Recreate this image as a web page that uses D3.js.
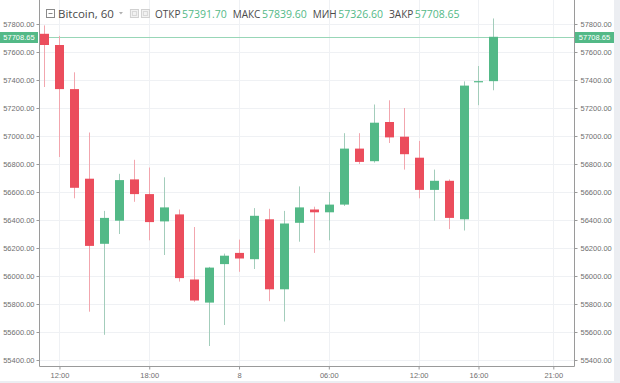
<!DOCTYPE html>
<html><head><meta charset="utf-8">
<script src="https://cdn.jsdelivr.net/npm/d3@7"></script>
<style>
html,body{margin:0;padding:0;background:#fff;}
svg{display:block;}
</style></head>
<body>
<svg id="c" width="620" height="383"></svg>
<script>
// ---- data ----
const times = ["2021-05-07 11:00","2021-05-07 12:00","2021-05-07 13:00","2021-05-07 14:00","2021-05-07 15:00","2021-05-07 16:00","2021-05-07 17:00","2021-05-07 18:00","2021-05-07 19:00","2021-05-07 20:00","2021-05-07 21:00","2021-05-07 22:00","2021-05-07 23:00","2021-05-08 00:00","2021-05-08 01:00","2021-05-08 02:00","2021-05-08 03:00","2021-05-08 04:00","2021-05-08 05:00","2021-05-08 06:00","2021-05-08 07:00","2021-05-08 08:00","2021-05-08 09:00","2021-05-08 10:00","2021-05-08 11:00","2021-05-08 12:00","2021-05-08 13:00","2021-05-08 14:00","2021-05-08 15:00","2021-05-08 16:00","2021-05-08 17:00"];
const opens  = [57730,57650,57335,56695,56230,56395,56690,56585,56390,56440,55975,55810,56085,56165,56120,56405,55905,56380,56475,56455,56510,56910,56820,57100,56995,56845,56615,56680,56405,57385,57391.70];
const highs  = [57790,57715,57455,57025,56465,56730,56830,56775,56705,56475,56350,56065,56160,56260,56485,56480,56465,56640,56495,56600,57020,57020,57225,57255,57200,56965,56760,56690,57390,57500,57839.60];
const lows   = [57350,56850,56555,55745,55580,56300,56530,56255,56150,55960,55815,55500,55650,56030,56050,55820,55675,56245,56165,56255,56500,56800,56810,56950,56760,56555,56395,56335,56325,57220,57326.60];
const closes = [57650,57335,56630,56215,56415,56685,56585,56385,56490,55985,55825,56060,56145,56125,56430,55905,56375,56490,56455,56510,56910,56815,57095,56990,56870,56615,56680,56415,57360,57392,57708.65];
const priceTicks = [55400,55600,55800,56000,56200,56400,56600,56800,57000,57200,57400,57600,57800];
const timeTickValues = ["2021-05-07 12:00","2021-05-07 18:00","2021-05-08 00:00","2021-05-08 06:00","2021-05-08 12:00","2021-05-08 16:00","2021-05-08 21:00"];
const timeTickLabels = ["12:00","18:00","8","06:00","12:00","16:00","21:00"];
const symbolTitle = "Bitcoin, 60";
const legendNames = ["ОТКР","МАКС","МИН","ЗАКР"];

// ---- layout ----
const parse = d3.timeParse("%Y-%m-%d %H:%M");
const L = 39.5, R = 574.5, T = 0, B = 366.5;
const svg = d3.select("#c");
const up = "#53b987", down = "#eb4d5c";
const font = "'Liberation Sans', Arial, sans-serif";

// outer frame background
svg.append("rect").attr("x",0).attr("y",0).attr("width",620).attr("height",383).attr("fill","#eceef2");
svg.append("rect").attr("x",0).attr("y",0).attr("width",614).attr("height",381).attr("fill","#fff");

const x = d3.scaleTime()
  .domain([parse("2021-05-07 10:40"), parse("2021-05-08 22:25")])
  .range([L, R]);
const y = d3.scaleLinear().domain([55400, 57800]).range([360, 24]);

// gridlines
const g = svg.append("g");
g.selectAll(".hg").data(priceTicks).join("line")
  .attr("x1",L).attr("x2",R)
  .attr("y1",d=>Math.round(y(d))+0.5).attr("y2",d=>Math.round(y(d))+0.5)
  .attr("stroke","#eff1f4").attr("stroke-width",1);
g.selectAll(".vg").data(timeTickValues).join("line")
  .attr("x1",d=>Math.round(x(parse(d)))+0.5).attr("x2",d=>Math.round(x(parse(d)))+0.5)
  .attr("y1",T).attr("y2",B)
  .attr("stroke","#eff1f4").attr("stroke-width",1);

// last price line
const last = closes[closes.length-1];
svg.append("line").attr("x1",L).attr("x2",R)
  .attr("y1",Math.round(y(last))+0.5).attr("y2",Math.round(y(last))+0.5)
  .attr("stroke","#98d6b7").attr("stroke-width",1);

// candles
const data = times.map((t,i)=>({t:parse(t),o:opens[i],h:highs[i],l:lows[i],c:closes[i]}));
const bw = 9;
const cg = svg.append("g");
cg.selectAll(".wick").data(data).join("line")
  .attr("x1",d=>Math.round(x(d.t))+0.5).attr("x2",d=>Math.round(x(d.t))+0.5)
  .attr("y1",d=>y(d.h)).attr("y2",d=>y(d.l))
  .attr("stroke",d=>d.c>=d.o?"#a3cdbb":"#f2a6ae").attr("stroke-width",1);
cg.selectAll(".body").data(data).join("rect")
  .attr("x",d=>Math.round(x(d.t))-4)
  .attr("width",bw)
  .attr("y",d=>y(Math.max(d.o,d.c)))
  .attr("height",d=>Math.max(1.2, Math.abs(y(d.o)-y(d.c))))
  .attr("fill",d=>d.c>=d.o?up:down);

// axes
const fmt = d3.format(".2f");
const ra = svg.append("g").attr("transform",`translate(${R},0)`)
  .call(d3.axisRight(y).tickValues(priceTicks).tickFormat(fmt).tickSize(3).tickPadding(3));
const la = svg.append("g").attr("transform",`translate(${L},0)`)
  .call(d3.axisLeft(y).tickValues(priceTicks).tickFormat(fmt).tickSize(3).tickPadding(2));
const xa = svg.append("g").attr("transform",`translate(0,${B})`)
  .call(d3.axisBottom(x).tickValues(timeTickValues.map(parse))
    .tickFormat((d,i)=>timeTickLabels[i]).tickSize(3).tickPadding(3));
[ra,la,xa].forEach(a=>{
  a.select(".domain").remove();
  a.selectAll(".tick line").attr("stroke","#9a9a9a");
  a.selectAll("text").attr("fill","#6f6f6f").style("font-family",font).style("font-size","7.5px");
});
// axis lines
svg.append("line").attr("x1",L).attr("x2",L).attr("y1",0).attr("y2",B).attr("stroke","#9a9a9a");
svg.append("line").attr("x1",R).attr("x2",R).attr("y1",0).attr("y2",B).attr("stroke","#9a9a9a");
svg.append("line").attr("x1",L).attr("x2",R).attr("y1",B).attr("y2",B).attr("stroke","#9a9a9a");

// last price labels
const ly = Math.round(y(last));
[[0,38],[575,39]].forEach(([lx,lw])=>{
  svg.append("rect").attr("x",lx).attr("y",ly-5).attr("width",lw).attr("height",11).attr("fill",up);
  svg.append("text").attr("x",lx+lw/2).attr("y",ly+3).attr("text-anchor","middle")
    .attr("fill","#fff").style("font-family",font).style("font-size","7.5px").text(fmt(last));
});

// legend
const lg = svg.append("g");
lg.append("rect").attr("x",46.5).attr("y",9.5).attr("width",8).attr("height",8).attr("fill","#fff").attr("stroke","#8a8a8a");
lg.append("line").attr("x1",48.5).attr("x2",52.5).attr("y1",13.5).attr("y2",13.5).attr("stroke","#8a8a8a");
const title = lg.append("text").attr("x",58).attr("y",18).attr("fill","#4a4a4a")
  .style("font-family","'Open Sans', sans-serif").style("font-size","11.5px").text(symbolTitle);
let tx = 58 + title.node().getComputedTextLength() + 5;
lg.append("path").attr("d",`M${tx},12 l4,0 l-2,2.5 z`).attr("fill","#b0b0b0");
tx += 11;
[0,1].forEach(k=>{
  lg.append("rect").attr("x",tx+0.5+k*11).attr("y",9.5).attr("width",8).attr("height",8)
    .attr("fill","#f2f2f2").attr("stroke","#d0d0d0");
  lg.append("rect").attr("x",tx+2.5+k*11).attr("y",11.5).attr("width",4).attr("height",4)
    .attr("fill","none").attr("stroke","#d8d8d8");
});
tx = 155;
const lv = [opens, highs, lows, closes].map(a=>a[a.length-1]);
legendNames.forEach((n,i)=>{
  const t1 = lg.append("text").attr("x",tx).attr("y",18).attr("fill","#4a4a4a")
    .style("font-family","'Open Sans', sans-serif").style("font-size","10px").text(n);
  tx += t1.node().getComputedTextLength() + 1.5;
  const t2 = lg.append("text").attr("x",tx).attr("y",18).attr("fill",up)
    .style("font-family","'Open Sans', sans-serif").style("font-size","10.5px").text(fmt(lv[i]));
  tx += t2.node().getComputedTextLength() + 6;
});
</script>
</body></html>
